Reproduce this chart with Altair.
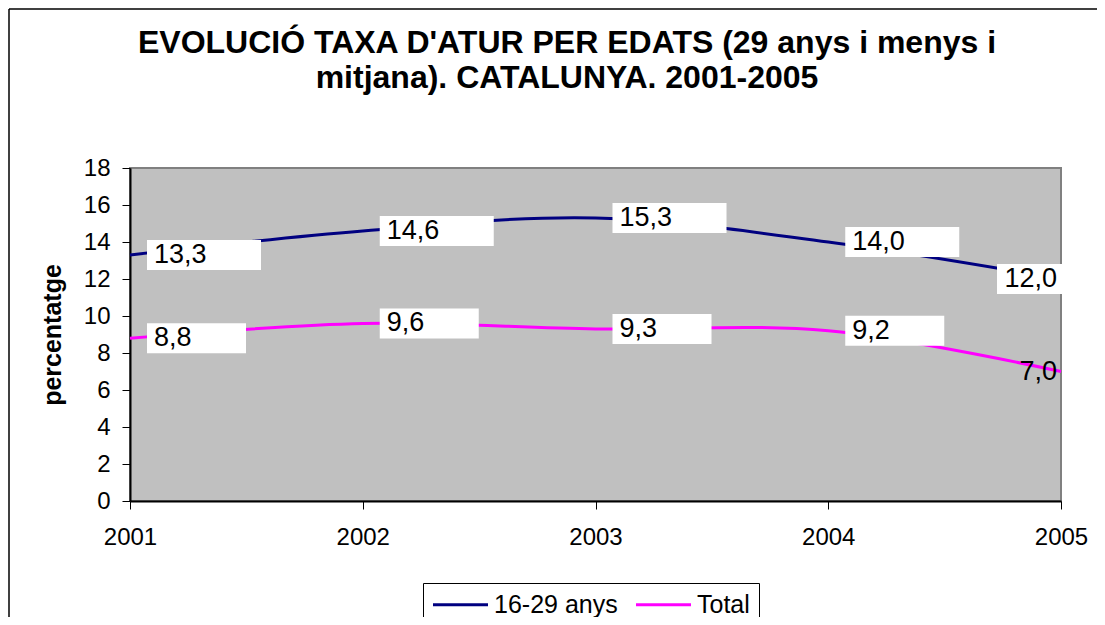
import altair as alt
import pandas as pd

years = [2001, 2002, 2003, 2004, 2005]
young = [13.3, 14.6, 15.3, 14.0, 12.0]
total = [8.8, 9.6, 9.3, 9.2, 7.0]
series_names = ["16-29 anys", "Total"]
series_colors = ["#000080", "#FF00FF"]
y_ticks = [0, 2, 4, 6, 8, 10, 12, 14, 16, 18]
title_lines = ["EVOLUCIÓ TAXA D'ATUR PER EDATS (29 anys i menys i",
               "mitjana). CATALUNYA. 2001-2005"]

rows = []
for name, vals in zip(series_names, [young, total]):
    for yr, v in zip(years, vals):
        rows.append({"serie": name, "any": yr, "valor": v,
                     "etiqueta": f"{v:.1f}".replace(".", ",")})
df = pd.DataFrame(rows)

FONT = "Liberation Sans"
W, H = 931, 333

x_scale = alt.Scale(domain=[years[0], years[-1]], nice=False, zero=False)
y_scale = alt.Scale(domain=[y_ticks[0], y_ticks[-1]], nice=False)

x_axis = alt.Axis(values=years, tickCount=20, format="d", title=None, grid=False,
                  tickSize=8, labelPadding=16, labelFlush=False,
                  labelOverlap=False)
y_axis = alt.Axis(values=y_ticks, tickCount=20,
                  title="percentatge", grid=False,
                  tickSize=8, labelPadding=12, titlePadding=18,
                  labelOverlap=False)

x_enc = alt.X("any:Q", scale=x_scale, axis=x_axis)
y_enc = alt.Y("valor:Q", scale=y_scale, axis=y_axis)

base = alt.Chart(df)

lines = base.mark_line(interpolate="cardinal", strokeWidth=3).encode(
    x=x_enc, y=y_enc,
    color=alt.Color("serie:N",
                    scale=alt.Scale(domain=series_names, range=series_colors),
                    legend=alt.Legend(title=None, orient="none", legendX=293,
                                      legendY=415, direction="horizontal",
                                      columns=2, symbolType="M-5,0H5",
                                      symbolSize=121, symbolStrokeWidth=3,
                                      symbolOffset=16, labelOffset=21,
                                      labelFontSize=25, labelFont=FONT,
                                      labelColor="black",
                                      columnPadding=12, padding=9,
                                      strokeColor="black", fillColor="white",
                                      labelLimit=300)),
)

def box(filt, x0, x1):
    return base.transform_filter(filt).mark_rect(
        color="white", xOffset=x0, x2Offset=x1, yOffset=-15, y2Offset=15
    ).encode(x=x_enc, x2="any", y=y_enc, y2="valor")

box_young = box((alt.datum.serie == series_names[0]) & (alt.datum.any < 2005), 17, 131)
box_young_last = box((alt.datum.serie == series_names[0]) & (alt.datum.any == 2005), -64, 1)
box_total = box((alt.datum.serie == series_names[1]) & (alt.datum.any < 2005), 17, 116)

text_left = base.transform_filter(alt.datum.any < 2005).mark_text(
    align="left", baseline="middle", dx=24, fontSize=27, font=FONT, color="black"
).encode(x=x_enc, y=y_enc, text="etiqueta:N")

text_right = base.transform_filter(alt.datum.any == 2005).mark_text(
    align="right", baseline="middle", dx=-4, fontSize=27, font=FONT, color="black"
).encode(x=x_enc, y=y_enc, text="etiqueta:N")

one = pd.DataFrame({"k": [0]})
title_mark = alt.Chart(one).mark_text(
    text="\n".join(title_lines), lineBreak="\n", lineHeight=35,
    fontSize=32, font=FONT, fontWeight="bold", color="black",
    align="center", baseline="alphabetic"
).encode(x=alt.value(437), y=alt.value(-115))

frame_left = alt.Chart(one).mark_rule(
    color="black", strokeWidth=1.5, clip=False
).encode(x=alt.value(-121), y=alt.value(-159), y2=alt.value(470))
frame_top = alt.Chart(one).mark_rule(
    color="black", strokeWidth=1.5, clip=False
).encode(x=alt.value(-121), x2=alt.value(990), y=alt.value(-159))

chart = alt.layer(
    lines, box_young, box_young_last, box_total, text_left, text_right,
    title_mark, frame_left, frame_top
).properties(
    width=W, height=H,
    autosize=alt.AutoSizeParams(type="none"),
    padding={"left": 122, "top": 160, "right": 36, "bottom": 116},
    background="white",
).configure_view(
    fill="#C0C0C0", stroke="#808080", strokeWidth=2
).configure_axis(
    labelFont=FONT, labelFontSize=24, labelColor="black", labelOverlap=False,
    titleFont=FONT, titleFontSize=25, titleFontWeight="bold", titleColor="black",
    domainColor="black", domainWidth=2, tickColor="black", tickWidth=1,
)

chart.save("out.html", embed_options={"renderer": "svg", "actions": False})
